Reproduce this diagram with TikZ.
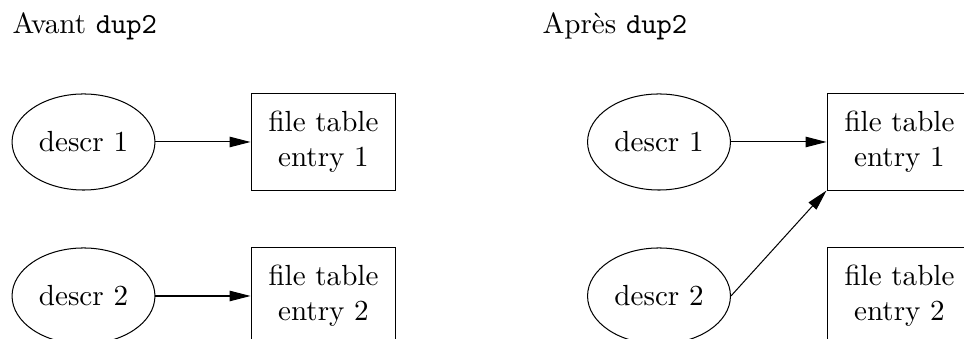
\documentclass[tikz,border=0pt]{standalone}
\usetikzlibrary{arrows.meta, shapes.geometric}
\begin{document}
\begin{tikzpicture}[x=0.3436pt, y=-0.3436pt, line width=0.35pt,
  descr/.style={ellipse, draw, minimum width=49.1pt, minimum height=33pt, inner sep=0pt},
  entry/.style={rectangle, draw, minimum width=49.8pt, minimum height=33pt, align=center, inner sep=0pt},
  link/.style={-{Triangle[length=7.2pt, width=3.6pt]}}]

\useasboundingbox (0,0) rectangle (964,339);
\clip (0,0) rectangle (964,339);

% Titles
\node[anchor=base west, inner sep=0pt] (TA) at (12,34) {Avant \texttt{dup2}};
\node[anchor=base west, inner sep=0pt] (TP) at (542,34) {Après \texttt{dup2}};

% Before
\node[descr] (AD1) at (83.5,142) {descr 1};
\node[descr] (AD2) at (83.5,296) {descr 2};
\node[entry] (AF1) at (323.5,142) {file table\\entry 1};
\node[entry] (AF2) at (323.5,296) {file table\\entry 2};

% After
\node[descr] (PD1) at (659,142) {descr 1};
\node[descr] (PD2) at (659,296) {descr 2};
\node[entry] (PF1) at (899.5,142) {file table\\entry 1};
\node[entry] (PF2) at (899.5,296) {file table\\entry 2};

% Connections
\draw[link] (AD1) -- (AF1);
\draw[link] (AD2) -- (AF2);
\draw[link] (PD1) -- (PF1);
\draw[link] (PD2.east) -- (PF1.south west);

\end{tikzpicture}
\end{document}
